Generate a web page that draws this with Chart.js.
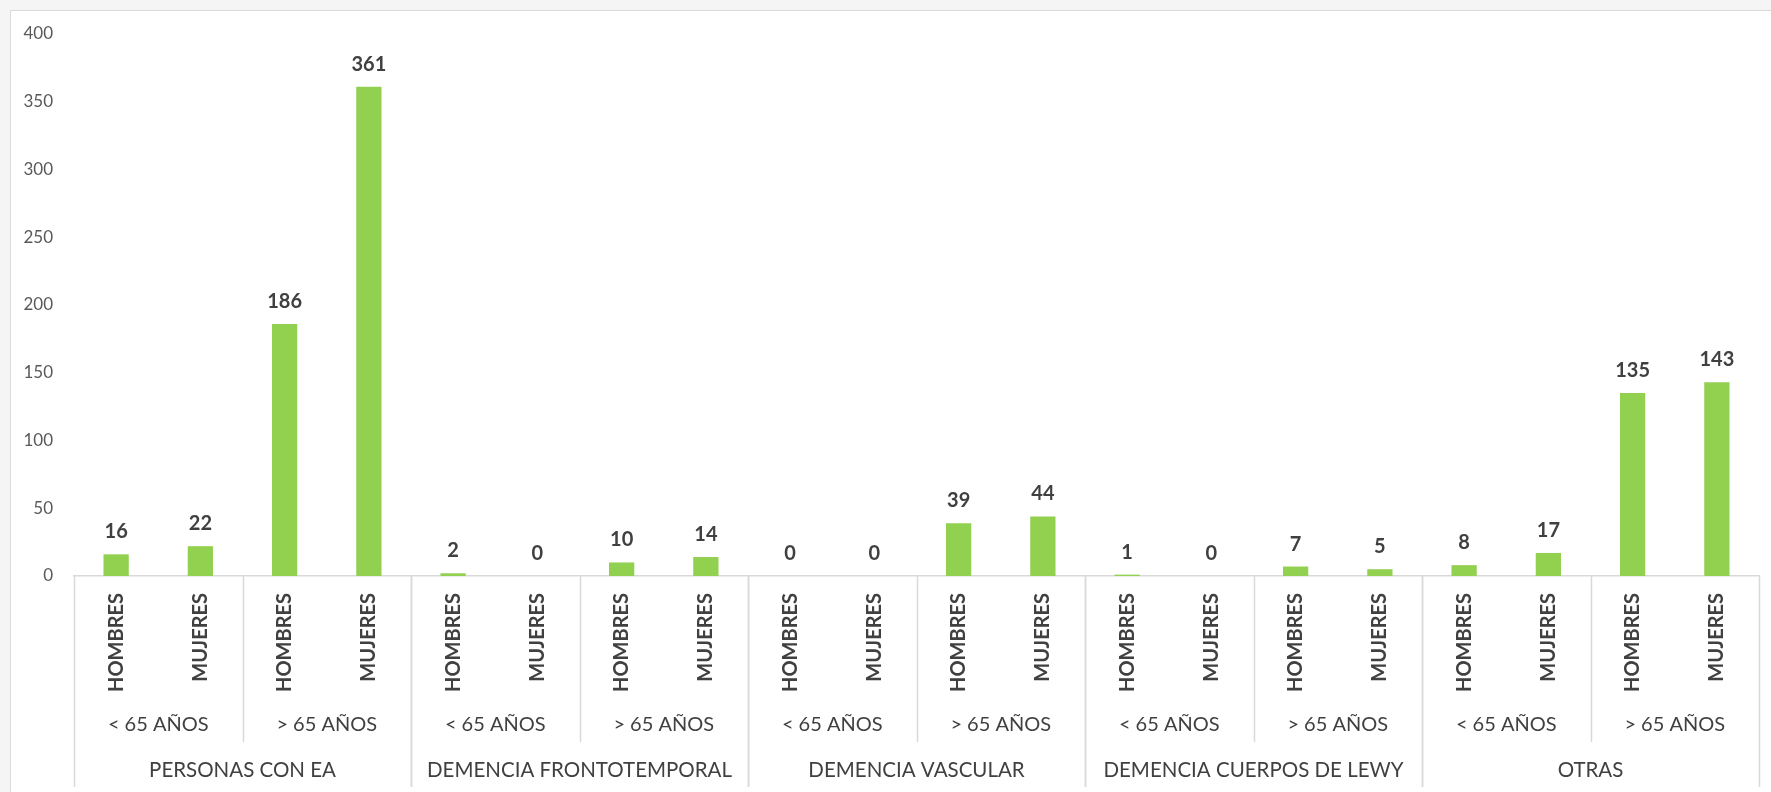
<!DOCTYPE html>
<html>
<head>
<meta charset="utf-8">
<script src="https://cdn.jsdelivr.net/npm/chart.js@4"></script>
<style>
  html, body { margin: 0; padding: 0; background: #f4f5f4; }
  #box {
    position: absolute; left: 10px; top: 10px; width: 1760px; height: 781px;
    background: #fff; border-left: 1px solid #d9dbd9; border-top: 1px solid #d9dbd9;
  }
  canvas { display: block; }
</style>
</head>
<body>
<div id="box"><canvas id="chart" width="1760" height="781"></canvas></div>
<script>
// categories (three levels)
const diagnoses = ['PERSONAS CON EA', 'DEMENCIA FRONTOTEMPORAL', 'DEMENCIA VASCULAR', 'DEMENCIA CUERPOS DE LEWY', 'OTRAS'];
const ageGroups = ['< 65 AÑOS', '> 65 AÑOS'];
const sexes = ['HOMBRES', 'MUJERES'];

// values, in order diagnosis > age group > sex
const values = [16, 22, 186, 361, 2, 0, 10, 14, 0, 0, 39, 44, 1, 0, 7, 5, 8, 17, 135, 143];

const yTicks = [0, 50, 100, 150, 200, 250, 300, 350, 400];

const labels = [];
diagnoses.forEach(() => ageGroups.forEach(() => sexes.forEach(s => labels.push(s))));

const FONT = 'Lato, "Open Sans", sans-serif';
const lineColor = '#d9d9d9';
const textColor = '#404040';

// value labels above bars
const valueLabels = {
  id: 'valueLabels',
  afterDatasetsDraw(chart) {
    const ctx = chart.ctx;
    const meta = chart.getDatasetMeta(0);
    ctx.save();
    ctx.font = 'bold 20px ' + FONT;
    ctx.fillStyle = textColor;
    ctx.textAlign = 'center';
    ctx.textBaseline = 'alphabetic';
    meta.data.forEach((bar, i) => {
      ctx.fillText(String(values[i]), bar.x, bar.y - 16);
    });
    ctx.restore();
  }
};

// second and third label levels plus separators
const groupAxis = {
  id: 'groupAxis',
  afterDraw(chart) {
    const ctx = chart.ctx;
    const x = chart.scales.x;
    const top = chart.chartArea.bottom;
    const per = sexes.length * ageGroups.length;
    ctx.save();
    ctx.strokeStyle = lineColor;
    ctx.lineWidth = 1.5;
    ctx.fillStyle = textColor;
    ctx.textAlign = 'center';
    ctx.textBaseline = 'middle';

    // age group level
    ctx.font = '20px ' + FONT;
    for (let g = 0; g < diagnoses.length * ageGroups.length; g++) {
      const a = g * sexes.length;
      const left = x.getPixelForValue(a - 0.5);
      const right = x.getPixelForValue(a + sexes.length - 0.5);
      ctx.fillText(ageGroups[g % ageGroups.length], (left + right) / 2, top + 149);
      if (g % ageGroups.length !== 0) {
        ctx.beginPath();
        ctx.moveTo(Math.round(left) + 0.5, top);
        ctx.lineTo(Math.round(left) + 0.5, top + 166);
        ctx.stroke();
      }
    }

    // diagnosis level
    ctx.font = '20.5px ' + FONT;
    for (let d = 0; d < diagnoses.length; d++) {
      const left = x.getPixelForValue(d * per - 0.5);
      const right = x.getPixelForValue((d + 1) * per - 0.5);
      ctx.fillText(diagnoses[d], (left + right) / 2, top + 194);
      [left, right].forEach(px => {
        ctx.beginPath();
        ctx.moveTo(Math.round(px) + 0.5, top);
        ctx.lineTo(Math.round(px) + 0.5, top + 211);
        ctx.stroke();
      });
    }
    ctx.restore();
  }
};

new Chart(document.getElementById('chart'), {
  type: 'bar',
  data: {
    labels: labels,
    datasets: [{
      data: values,
      backgroundColor: '#92d050',
      categoryPercentage: 1,
      barPercentage: 0.3
    }]
  },
  options: {
    responsive: false,
    animation: false,
    layout: { padding: { top: 23, right: 12, left: 0, bottom: 0 } },
    plugins: {
      legend: { display: false },
      tooltip: { enabled: false }
    },
    scales: {
      x: {
        grid: { display: false, drawTicks: false },
        border: { display: true, color: lineColor, width: 1.5 },
        ticks: {
          color: textColor,
          font: { family: FONT, size: 20, weight: 'bold' },
          minRotation: 90,
          maxRotation: 90,
          padding: 17,
          autoSkip: false
        },
        afterFit(scale) { scale.height = 216; }
      },
      y: {
        min: 0,
        max: 400,
        afterBuildTicks(scale) { scale.ticks = yTicks.map(v => ({ value: v })); },
        grid: { display: false, drawTicks: false },
        border: { display: false },
        ticks: {
          color: '#595959',
          font: { family: FONT, size: 17 },
          padding: 21
        },
        afterFit(scale) {
          scale.width = 63;
          scale.paddingTop = 0;
          scale.paddingBottom = 0;
        }
      }
    }
  },
  plugins: [valueLabels, groupAxis]
});
</script>
</body>
</html>
